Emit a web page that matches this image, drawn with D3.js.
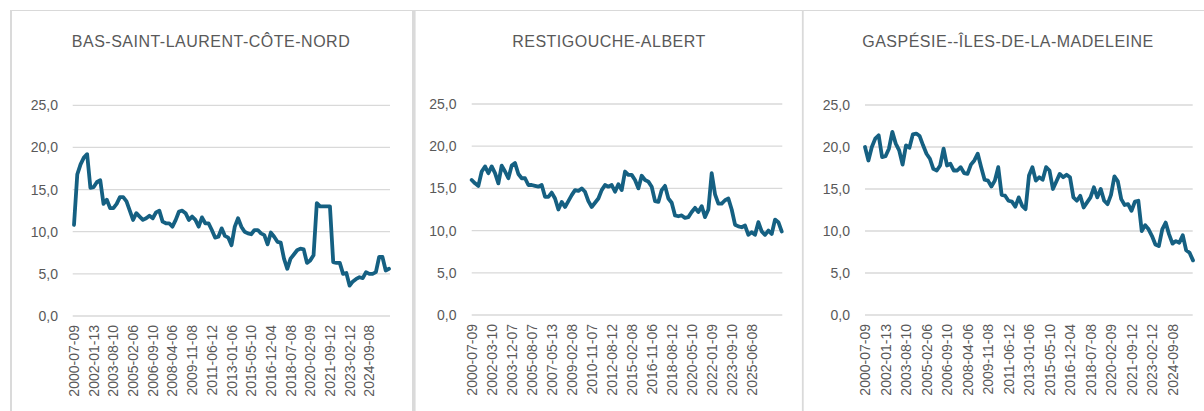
<!DOCTYPE html>
<html>
<head>
<meta charset="utf-8">
<script src="https://cdn.jsdelivr.net/npm/d3@7/dist/d3.min.js"></script>
<style>
body {margin: 0; background: #fff;}
svg {display: block;}
</style>
</head>
<body>
<svg id="chart"></svg>
<script>
//chart titles
var titles = ["BAS-SAINT-LAURENT-CÔTE-NORD", "RESTIGOUCHE-ALBERT", "GASPÉSIE--ÎLES-DE-LA-MADELEINE"];

//date labels shown on the category axis (one every 6 points)
var ticksA = ["2000-07-09","2002-01-13","2003-08-10","2005-02-06","2006-09-10","2008-04-06","2009-11-08","2011-06-12",
	"2013-01-06","2015-05-10","2016-12-04","2018-07-08","2020-02-09","2021-09-12","2023-02-12","2024-09-08"];
var ticksB = ["2000-07-09","2002-03-10","2003-12-07","2005-08-07","2007-05-13","2009-02-08","2010-11-07","2012-08-12",
	"2015-02-08","2016-11-06","2018-08-12","2020-05-10","2022-01-09","2023-09-10","2025-06-08"];

var yTicks = [0, 5, 10, 15, 20, 25];

//series values
var bslcn = [10.8,16.8,18.0,18.8,19.2,15.2,15.3,15.9,16.1,13.3,13.8,12.8,12.8,13.3,14.1,14.1,13.6,12.5,11.4,12.2,
	11.8,11.4,11.6,11.9,11.6,12.3,12.5,11.2,11.0,11.0,10.6,11.4,12.4,12.5,12.2,11.4,11.8,11.4,10.6,11.7,
	11.0,11.0,10.2,9.3,9.4,10.4,9.5,9.3,8.4,10.6,11.6,10.6,10.0,9.8,9.7,10.2,10.2,9.8,9.6,8.5,
	9.9,9.4,8.8,8.7,6.8,5.6,6.8,7.3,7.8,8.0,7.9,6.3,6.6,7.2,13.4,13.0,13.0,13.0,13.0,6.4,
	6.3,6.3,5.0,5.1,3.6,4.1,4.4,4.6,4.5,5.2,5.0,5.0,5.2,7.0,7.0,5.4,5.6];

var restigouche = [16.0,15.6,15.3,17.0,17.6,16.8,17.6,16.8,15.6,17.7,17.0,16.2,17.7,18.0,16.7,16.2,16.2,15.4,15.4,15.3,
	15.2,15.4,14.0,14.0,14.5,13.8,12.5,13.4,12.8,13.5,14.2,14.8,14.7,15.0,14.6,13.5,12.8,13.3,13.8,14.8,
	15.4,15.2,15.4,14.6,15.5,14.8,17.0,16.6,16.6,16.0,15.0,16.5,16.0,15.8,15.2,13.5,13.4,14.8,15.3,13.8,
	13.3,11.8,11.7,11.8,11.5,11.6,12.2,12.7,12.2,12.9,11.6,12.5,16.8,14.3,13.2,13.2,13.6,13.8,12.5,10.7,
	10.5,10.4,10.6,9.5,9.8,9.5,11.0,9.9,9.5,10.0,9.6,11.3,11.0,9.9];

var gaspesie = [20.0,18.4,20.0,21.0,21.4,18.8,18.9,19.8,21.8,20.4,19.6,17.9,20.2,19.9,21.5,21.6,21.3,20.2,19.2,18.6,
	17.4,17.2,17.8,19.8,17.8,18.0,17.2,17.2,17.6,16.9,16.8,17.9,18.4,19.2,17.6,16.1,16.0,15.3,16.0,17.6,
	14.3,14.2,13.6,13.5,12.9,14.0,13.0,12.6,16.6,17.6,16.0,16.4,16.1,17.6,17.2,15.0,15.9,16.8,16.4,16.7,
	16.4,14.0,13.6,14.2,12.8,13.4,14.0,15.2,14.0,15.0,13.6,13.2,14.3,16.5,15.9,13.8,13.1,13.2,12.4,13.5,
	13.6,10.0,10.7,10.2,9.4,8.4,8.2,10.2,11.0,9.6,8.5,8.8,8.6,9.5,7.7,7.4,6.5];

var step = 6;

//layout of the three panels
var panels = [
	{title: titles[0], values: bslcn, ticks: ticksA, x0: 74, x1: 389, g0: 72.7, g1: 390, lab: 58, yBot: 316, yTop: 105.3, cx: 211},
	{title: titles[1], values: restigouche, ticks: ticksB, x0: 471.7, x1: 781.7, g0: 471.7, g1: 782.3, lab: 456.5, yBot: 315, yTop: 104, cx: 609},
	{title: titles[2], values: gaspesie, ticks: ticksA, x0: 865, x1: 1193, g0: 865, g1: 1192.7, lab: 850, yBot: 315, yTop: 105, cx: 1008}
];

var width = 1204, height = 411;
var textColor = "#595959", gridColor = "#d9d9d9", lineColor = "#156082";

var svg = d3.select("#chart")
	.attr("width", width)
	.attr("height", height)
	.style("font-family", "'Liberation Sans', Arial, sans-serif");

//panel frames
svg.append("line")
	.attr("x1", 10).attr("x2", width)
	.attr("y1", 10.5).attr("y2", 10.5)
	.attr("stroke", "#d9d9d9").attr("stroke-width", 1);

[{x: 11, w: 2}, {x: 413.8, w: 3.6}, {x: 802.8, w: 1.8}].forEach(function(b){
	svg.append("line")
		.attr("x1", b.x).attr("x2", b.x)
		.attr("y1", 10).attr("y2", height)
		.attr("stroke", "#dadada").attr("stroke-width", b.w);
});

panels.forEach(function(p){
	var x = d3.scaleLinear()
		.domain([0, p.values.length - 1])
		.range([p.x0, p.x1]);
	var y = d3.scaleLinear()
		.domain([0, 25])
		.range([p.yBot, p.yTop]);

	var g = svg.append("g");

	//title
	g.append("text")
		.text(p.title)
		.attr("x", p.cx)
		.attr("y", 47)
		.attr("text-anchor", "middle")
		.attr("fill", textColor)
		.attr("font-size", 16)
		.attr("letter-spacing", 0.5);

	//gridlines
	g.selectAll("line.grid")
		.data(yTicks)
		.enter()
		.append("line")
		.attr("class", "grid")
		.attr("x1", p.g0).attr("x2", p.g1)
		.attr("y1", function(d) {return y(d);})
		.attr("y2", function(d) {return y(d);})
		.attr("stroke", gridColor)
		.attr("stroke-width", 1.3);

	//y labels
	g.selectAll("text.ylab")
		.data(yTicks)
		.enter()
		.append("text")
		.attr("class", "ylab")
		.text(function(d) {return d.toFixed(1).replace(".", ",");})
		.attr("x", p.lab)
		.attr("y", function(d) {return y(d);})
		.attr("dy", "0.36em")
		.attr("text-anchor", "end")
		.attr("fill", textColor)
		.attr("font-size", 14);

	//rotated date labels
	g.selectAll("text.xlab")
		.data(p.ticks)
		.enter()
		.append("text")
		.attr("class", "xlab")
		.text(function(d) {return d;})
		.attr("transform", function(d, i) {return "translate(" + x(i * step) + "," + (p.yBot + 9) + ") rotate(-90)";})
		.attr("dy", "0.36em")
		.attr("text-anchor", "end")
		.attr("fill", textColor)
		.attr("font-size", 14);

	//series line
	var line = d3.line()
		.x(function(d, i) {return x(i);})
		.y(function(d) {return y(d);});

	g.append("path")
		.datum(p.values)
		.attr("d", line)
		.attr("fill", "none")
		.attr("stroke", lineColor)
		.attr("stroke-width", 3.8)
		.attr("stroke-linejoin", "round")
		.attr("stroke-linecap", "round");
});
</script>
</body>
</html>
